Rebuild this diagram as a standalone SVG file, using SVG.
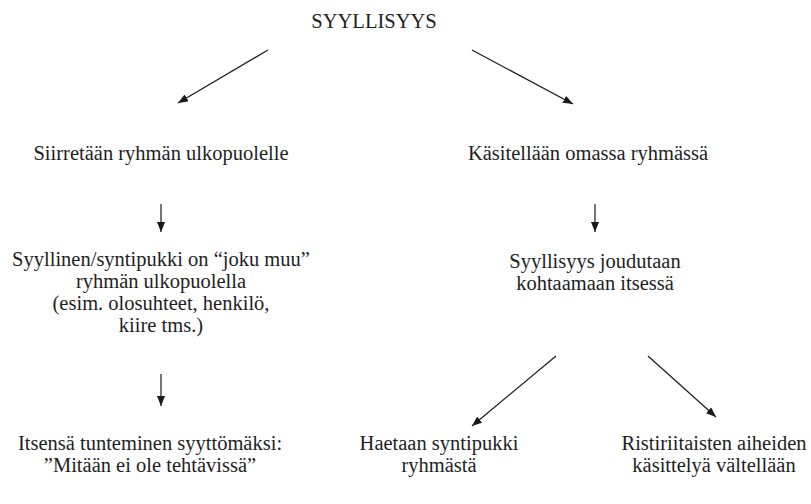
<svg xmlns="http://www.w3.org/2000/svg" width="811" height="504" viewBox="0 0 811 504">
  <defs>
    <marker id="head" viewBox="0 0 10 8" refX="10" refY="4" markerWidth="10" markerHeight="8" markerUnits="userSpaceOnUse" orient="auto">
      <path d="M0,0 L10,4 L0,8 Z" fill="#1a1a1a"/>
    </marker>
    <style>
      text { font-size: 20.5px; fill: #1e1e1e; text-anchor: middle; }
      .c { stroke: #1a1a1a; stroke-width: 1.2; fill: none; marker-end: url(#head); }
    </style>
  </defs>
  <rect width="811" height="504" fill="#ffffff"/>

  <g font-family="'Liberation Serif', 'Times New Roman', 'DejaVu Serif', serif">
    <g id="root"><text x="374" y="28">SYYLLISYYS</text></g>

    <g id="outside"><text x="161" y="160">Siirretään ryhmän ulkopuolelle</text></g>
    <g id="inside"><text x="588" y="160">Käsitellään omassa ryhmässä</text></g>

    <g id="someone-else">
      <text x="161" y="266">Syyllinen/syntipukki on “joku muu”</text>
      <text x="161" y="288">ryhmän ulkopuolella</text>
      <text x="161" y="310">(esim. olosuhteet, henkilö,</text>
      <text x="161" y="332">kiire tms.)</text>
    </g>
    <g id="face-self">
      <text x="595" y="268">Syyllisyys joudutaan</text>
      <text x="595" y="290">kohtaamaan itsessä</text>
    </g>

    <g id="innocent">
      <text x="150" y="450">Itsensä tunteminen syyttömäksi:</text>
      <text x="150" y="472">”Mitään ei ole tehtävissä”</text>
    </g>
    <g id="scapegoat">
      <text x="439" y="450">Haetaan syntipukki</text>
      <text x="439" y="472">ryhmästä</text>
    </g>
    <g id="avoid">
      <text x="714" y="450">Ristiriitaisten aiheiden</text>
      <text x="714" y="472">käsittelyä vältellään</text>
    </g>
  </g>

  <g id="connectors">
    <line class="c" x1="268" y1="50" x2="178" y2="103"/>
    <line class="c" x1="472" y1="50" x2="573" y2="104"/>
    <line class="c" x1="161" y1="204" x2="161" y2="232"/>
    <line class="c" x1="595" y1="204" x2="595" y2="232"/>
    <line class="c" x1="161" y1="374" x2="161" y2="406"/>
    <line class="c" x1="556" y1="356" x2="472" y2="426"/>
    <line class="c" x1="648" y1="356" x2="716" y2="417"/>
  </g>
</svg>
